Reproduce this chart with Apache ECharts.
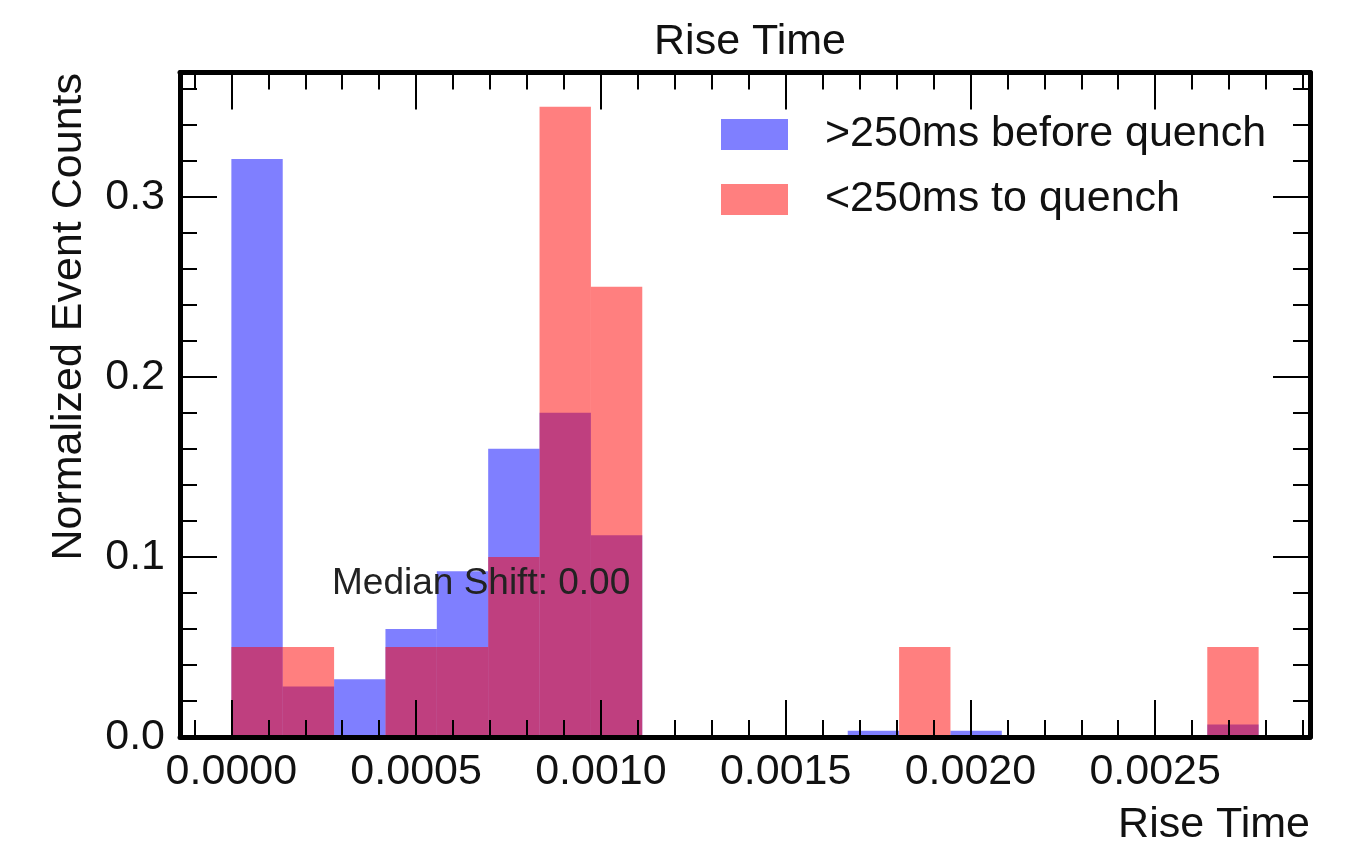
<!DOCTYPE html>
<html>
<head>
<meta charset="utf-8">
<script src="https://cdn.jsdelivr.net/npm/echarts@6/dist/echarts.min.js"></script>
<style>
html,body{margin:0;padding:0;background:#fff;}
#main{width:1364px;height:854px;}
</style>
</head>
<body>
<div id="main"></div>
<script>
// Histogram definition
const binStart = 0;
const binWidth = 0.000139;
const xMin = -0.000139;
const xMax = 0.002919;
const yMax = 0.369;
// Series values per bin (20 bins)
const beforeQuench = [0.321, 0.028, 0.032, 0.060, 0.092, 0.160, 0.180, 0.112, 0, 0, 0, 0, 0.0035, 0, 0.0035, 0, 0, 0, 0, 0.007];
const toQuench     = [0.05, 0.05, 0, 0.05, 0.05, 0.10, 0.35, 0.25, 0, 0, 0, 0, 0, 0.05, 0, 0, 0, 0, 0, 0.05];
const seriesNames = ['>250ms before quench', '<250ms to quench'];
const titleText = 'Rise Time';
const xName = 'Rise Time';
const yName = 'Normalized Event Counts';
const noteText = 'Median Shift: 0.00';

const FONT = '"Liberation Sans", Arial, Helvetica, sans-serif';
const INK = '#111';
const FS = 43;

function binData(vals) {
  return vals.map((v, i) => [binStart + i * binWidth, binStart + (i + 1) * binWidth, v]);
}
function renderBin(params, api) {
  const x0 = api.value(0), x1 = api.value(1), v = api.value(2);
  if (!v) return null;
  const p0 = api.coord([x0, v]);
  const p1 = api.coord([x1, 0]);
  return {
    type: 'rect',
    shape: { x: p0[0], y: p0[1], width: p1[0] - p0[0], height: p1[1] - p0[1] },
    style: { fill: api.visual('color') }
  };
}

const axisCommon = {
  axisLine: { show: true, onZero: false, lineStyle: { color: '#000', width: 5 } },
  axisTick: { show: true, inside: true, length: 37, lineStyle: { color: '#000', width: 2 } },
  minorTick: { show: true, splitNumber: 5, length: 17, lineStyle: { color: '#000', width: 2 } },
  splitLine: { show: false },
  z: 5
};

const chart = echarts.init(document.getElementById('main'), null, { renderer: 'canvas' });
const option = {
  animation: false,
  backgroundColor: '#fff',
  title: {
    text: titleText,
    left: 745,
    textAlign: 'center',
    top: 16,
    textStyle: { fontFamily: FONT, fontSize: FS, fontWeight: 'normal', color: INK, lineHeight: 43 }
  },
  legend: {
    orient: 'vertical',
    left: 721,
    top: 113,
    padding: 0,
    itemWidth: 67,
    itemHeight: 31,
    itemGap: 22,
    icon: 'rect',
    data: seriesNames,
    textStyle: { fontFamily: FONT, fontSize: FS, color: INK, lineHeight: 43, padding: [0, 0, 0, 32] }
  },
  grid: { left: 180, right: 54, top: 72.5, bottom: 117, outerBoundsMode: 'none', containLabel: false },
  xAxis: [
    Object.assign({}, axisCommon, {
      type: 'value', position: 'bottom', min: xMin, max: xMax, splitNumber: 5,
      name: xName, nameLocation: 'end', nameGap: 0, nameMoveOverlap: false,
      nameTextStyle: { fontFamily: FONT, fontSize: FS, color: INK, align: 'right', verticalAlign: 'top', lineHeight: 43, padding: [67, 0, 0, 0] },
      axisLabel: { show: true, margin: 14, fontFamily: FONT, fontSize: FS, color: INK, showMinLabel: false, showMaxLabel: false,
        formatter: v => v.toFixed(4) }
    }),
    Object.assign({}, axisCommon, {
      type: 'value', position: 'top', min: xMin, max: xMax, splitNumber: 5,
      axisLabel: { show: false }
    })
  ],
  yAxis: [
    Object.assign({}, axisCommon, {
      type: 'value', position: 'left', min: 0, max: yMax, interval: 0.1,
      axisLabel: { show: true, margin: 15, fontFamily: FONT, fontSize: FS, color: INK, showMinLabel: true, showMaxLabel: false,
        formatter: v => v.toFixed(1) }
    }),
    Object.assign({}, axisCommon, {
      type: 'value', position: 'right', min: 0, max: yMax, interval: 0.1,
      axisLabel: { show: false }
    })
  ],
  series: [
    {
      name: seriesNames[0], type: 'custom', xAxisIndex: 0, yAxisIndex: 0, z: 2,
      itemStyle: { color: 'rgba(0,0,255,0.5)' },
      encode: { x: [0, 1], y: 2 },
      renderItem: renderBin,
      data: binData(beforeQuench)
    },
    {
      name: seriesNames[1], type: 'custom', xAxisIndex: 0, yAxisIndex: 0, z: 3,
      itemStyle: { color: 'rgba(255,0,0,0.5)' },
      encode: { x: [0, 1], y: 2 },
      renderItem: renderBin,
      data: binData(toQuench)
    }
  ],
  graphic: [
    {
      type: 'text', x: 69, y: 73, rotation: Math.PI / 2, z: 10,
      style: { text: yName, font: FS + 'px ' + FONT, fill: INK, textAlign: 'right', textVerticalAlign: 'middle', align: 'right', verticalAlign: 'middle' }
    },
    {
      type: 'text', x: 332, y: 584, z: 10,
      style: { text: noteText, font: '37px ' + FONT, fill: '#222', textAlign: 'left', textVerticalAlign: 'middle', align: 'left', verticalAlign: 'middle' }
    }
  ]
};
chart.setOption(option);
</script>
</body>
</html>
